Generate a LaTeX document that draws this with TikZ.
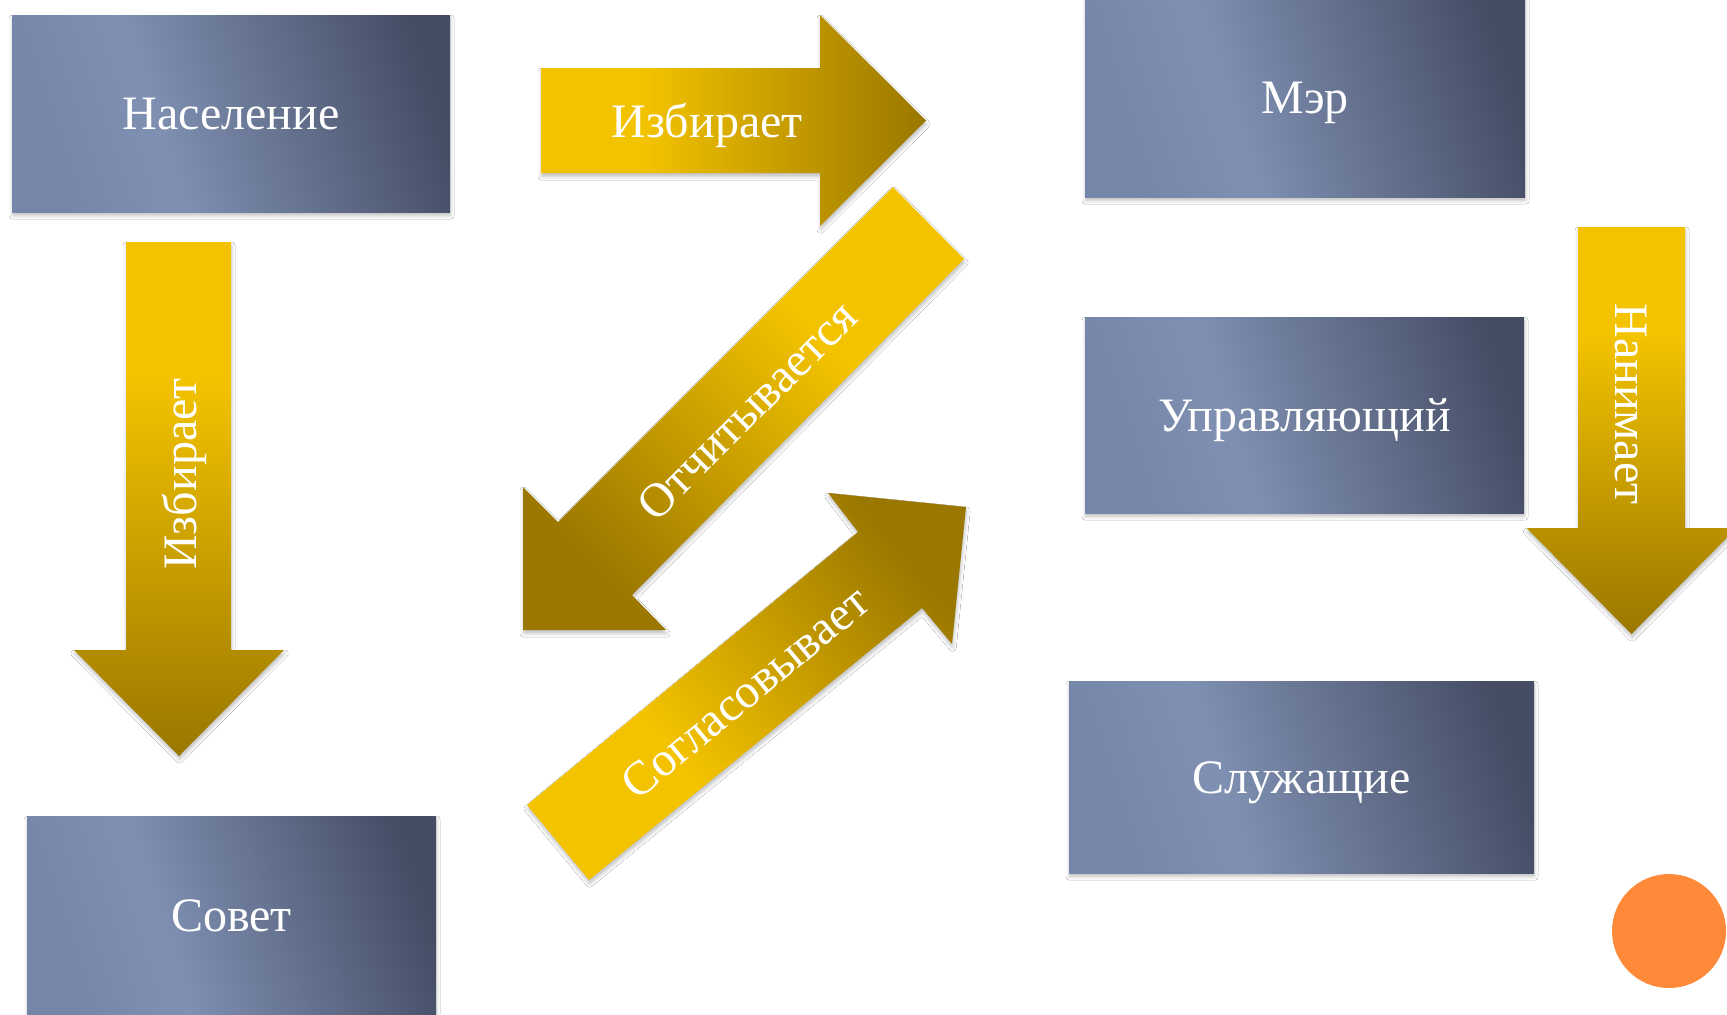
\documentclass[tikz,border=0pt]{standalone}
\usepackage{fontspec}
\setmainfont{Liberation Serif}
\usetikzlibrary{shadows.blur}
\definecolor{goldL}{HTML}{F4C300}
\definecolor{goldD}{HTML}{9A7700}
\definecolor{boxA}{HTML}{7686A8}
\definecolor{boxB}{HTML}{7F90B2}
\definecolor{boxC}{HTML}{454D65}
\definecolor{dotc}{HTML}{FE8A39}
\pgfdeclarehorizontalshading{goldshade}{100bp}{color(0bp)=(goldL); color(25bp)=(goldL); color(38bp)=(goldL); color(75bp)=(goldD); color(100bp)=(goldD)}
\pgfdeclarehorizontalshading{boxshade}{100bp}{color(0bp)=(boxA); color(25bp)=(boxA); color(40bp)=(boxB); color(76bp)=(boxC); color(100bp)=(boxC)}
\begin{document}
\begin{tikzpicture}[x=0.5pt,y=-0.5pt,
  softshadow/.style={blur shadow={shadow xshift=0.3pt, shadow yshift=-1.8pt, shadow blur radius=1.8pt, shadow opacity=25}},
  box/.style={shade, shading=boxshade, shading angle=18, text=white, font=\fontsize{24}{28}\selectfont, inner sep=0pt, text height=16pt, text depth=0pt, softshadow},
  lbl/.style={text=white, font=\fontsize{24}{28}\selectfont, inner sep=0pt, text height=16pt, text depth=0pt},
  barrow/.style={shade, shading=goldshade, softshadow}]
\path[use as bounding box] (0,0) rectangle (1727,1014);
\clip (0,0) rectangle (1727,1014);
\fill[white] (0,0) rectangle (1727,1014);

% boxes
\node[box, minimum width=219pt, minimum height=98.5pt] (nas) at (231,113.5) {Население};
\node[box, minimum width=204.5pt, minimum height=99pt] (sov) at (231.5,915) {Совет};
\node[box, minimum width=220pt, minimum height=100pt] (mer) at (1305,97) {Мэр};
\node[box, minimum width=219.5pt, minimum height=98pt] (upr) at (1304.5,415) {Управляющий};
\node[box, minimum width=232.5pt, minimum height=96pt] (slu) at (1301.5,777) {Служащие};

% arrow 1: horizontal
\shade[barrow] (541,68) -- (820,68) -- (820,15) -- (926,120.5) -- (820,226) -- (820,173) -- (541,173) -- cycle;
\node[lbl] (t1) at (707,121) {Избирает};

% arrow 2: down, left
\shade[barrow, shading angle=-90] (126,242) -- (231,242) -- (231,650) -- (284,650) -- (179,756) -- (74,650) -- (126,650) -- cycle;
\node[lbl, rotate=90] (t2) at (180,474) {Избирает};

% arrow 3: diagonal down-left
\shade[barrow, shading angle=225] (893,187) -- (964,259) -- (632,595) -- (666,630) -- (523,630) -- (523,487) -- (558,522) -- cycle;
\node[lbl, rotate=45] (t3) at (747,410) {Отчитывается};

% arrow 4: diagonal up-right
\shade[barrow, shading angle=39.5] (527,805) -- (858,532) -- (828,493) -- (966,507) -- (952,644) -- (922,608) -- (589,880) -- cycle;
\node[lbl, rotate=39.5] (t4) at (745,692) {Согласовывает};

% arrow 5: down, right
\shade[barrow, shading angle=-90] (1578,227) -- (1685,227) -- (1685,528) -- (1736.5,528) -- (1631.5,634) -- (1526.5,528) -- (1578,528) -- cycle;
\node[lbl, rotate=-90] (t5) at (1631,404) {Нанимает};

% orange dot
\node[circle, fill=dotc, minimum size=57pt, inner sep=0pt] (dot) at (1669,931) {};
\end{tikzpicture}
\end{document}
